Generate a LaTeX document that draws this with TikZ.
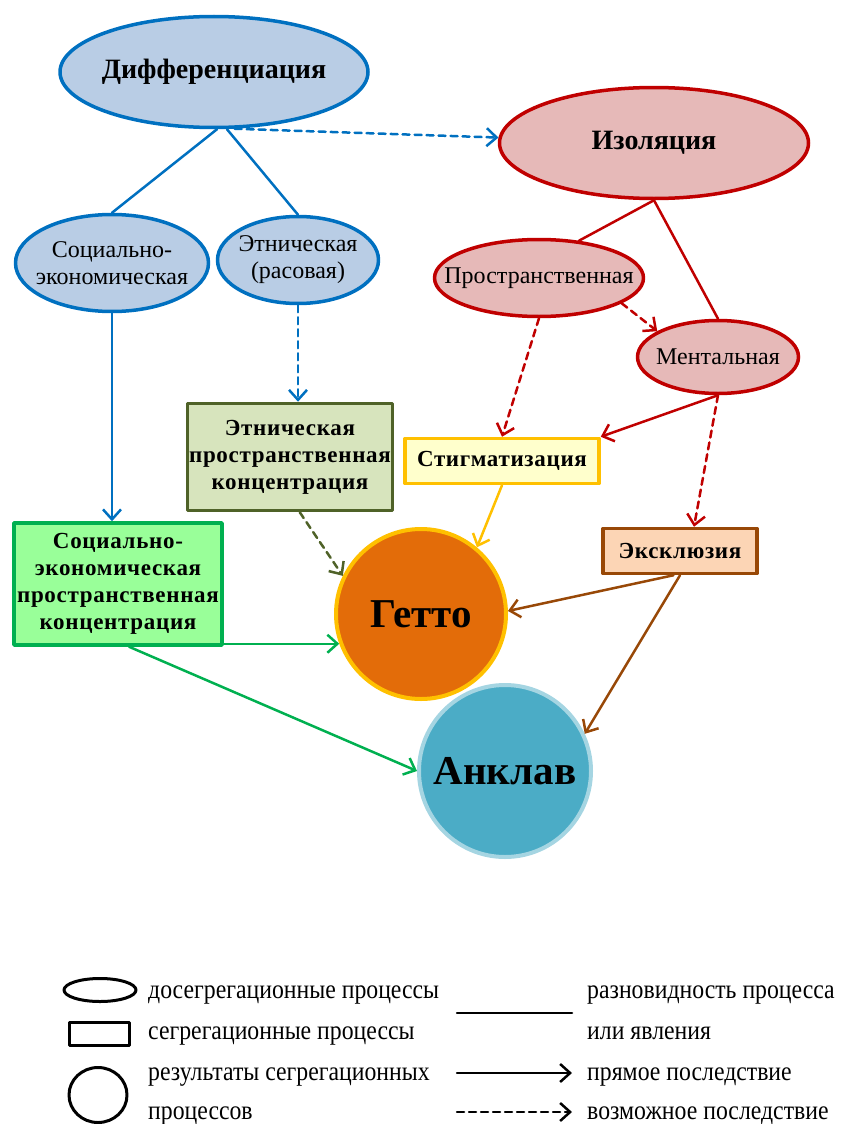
\documentclass[tikz,border=0pt]{standalone}
\usepackage{fontspec}
\setmainfont{Liberation Serif}
\newfontfamily\legfont[FakeStretch=0.88]{Liberation Serif}
\newfontfamily\boxfont[LetterSpace=3]{Liberation Serif}
\usetikzlibrary{shapes.geometric,arrows.meta}
\definecolor{difblue}{HTML}{0070C0}
\definecolor{diffill}{HTML}{B9CDE5}
\definecolor{isored}{HTML}{C00000}
\definecolor{isofill}{HTML}{E6B9B8}
\definecolor{olive}{HTML}{4F6228}
\definecolor{olivefill}{HTML}{D7E4BD}
\definecolor{sgreen}{HTML}{00B050}
\definecolor{sgreenfill}{HTML}{99FF99}
\definecolor{gold}{HTML}{FFC000}
\definecolor{goldfill}{HTML}{FFFFCC}
\definecolor{brown}{HTML}{984807}
\definecolor{brownfill}{HTML}{FCD5B5}
\definecolor{ghettofill}{HTML}{E36C09}
\definecolor{anklavfill}{HTML}{4BACC6}
\definecolor{anklavline}{HTML}{A5D5E2}

\begin{document}
\begin{tikzpicture}[line cap=round,line join=round,>={Straight Barb[length=10pt,width=18pt]},x=1pt,y=-1pt,
  mainell/.style={ellipse,line width=3.5pt,inner sep=-30pt,font=\bfseries\fontsize{28}{30}\selectfont},
  subell/.style={ellipse,line width=3.5pt,inner sep=-30pt,align=center,font=\fontsize{24}{27}\selectfont},
  segbox/.style={rectangle,line width=3.5pt,inner sep=0pt,align=center,font=\boxfont\bfseries\fontsize{23}{27}\selectfont},
  result/.style={circle,line width=4pt,inner sep=0pt,font=\bfseries\fontsize{41}{44}\selectfont},
  kind/.style={line width=2.5pt},
  direct/.style={->,line width=2.5pt},
  possible/.style={->,line width=2.5pt,dash pattern=on 7pt off 5pt},
  legshape/.style={draw=black,line width=3pt,inner sep=0pt},
  legtext/.style={anchor=base west,inner sep=0pt,font=\legfont\fontsize{27}{29}\selectfont}]
\useasboundingbox (0,0) rectangle (842,1124);

\node[mainell,draw=difblue,fill=diffill,minimum width=308pt,minimum height=111pt] (diff) at (214,72) {Дифференциация};
\node[mainell,draw=isored,fill=isofill,minimum width=309pt,minimum height=111pt] (iso) at (654,143) {Изоляция};
\node[subell,draw=difblue,fill=diffill,minimum width=193pt,minimum height=97pt] (soc) at (112,263) {Социально-\\экономическая};
\node[subell,draw=difblue,fill=diffill,minimum width=161pt,minimum height=87pt] (eth) at (298,260) {Этническая\\(расовая)};
\node[subell,draw=isored,fill=isofill,minimum width=209pt,minimum height=77pt] (prost) at (539,278) {Пространственная};
\node[subell,draw=isored,fill=isofill,minimum width=161pt,minimum height=73pt] (ment) at (718,357) {Ментальная};
\node[segbox,draw=olive,fill=olivefill,minimum width=205pt,minimum height=107pt] (ethbox) at (290,457) {Этническая\\пространственная\\концентрация};
\node[segbox,draw=sgreen,fill=sgreenfill,minimum width=208pt,minimum height=122pt] (socbox) at (118,584) {Социально-\\экономическая\\пространственная\\концентрация};
\node[segbox,draw=gold,fill=goldfill,minimum width=194pt,minimum height=45pt] (stig) at (502,461) {Стигматизация};
\node[segbox,draw=brown,fill=brownfill,minimum width=154pt,minimum height=45pt] (excl) at (680,551) {Эксклюзия};
\node[result,draw=gold,fill=ghettofill,minimum size=170pt] (ghetto) at (421,614) {Гетто};
\node[result,draw=anklavline,fill=anklavfill,minimum size=172pt] (anklav) at (505,771) {Анклав};

\draw[kind,difblue] ([xshift=3pt]diff.south) -- (soc.north);
\draw[kind,difblue] ([xshift=13pt]diff.south) -- (eth.north);
\draw[possible,difblue] (diff.-70) -- (iso.178);
\draw[direct,difblue] (soc.south) -- (soc.south |- socbox.north);
\draw[possible,difblue] (eth.south) -- (eth.south |- ethbox.north);
\draw[kind,isored] (iso.south) -- (prost.43);
\draw[kind,isored] (iso.south) -- (ment.north);
\draw[possible,isored] (prost.-17) -- (ment.157);
\draw[possible,isored] (prost.south) -- (stig.north);
\draw[direct,isored] (ment.south) -- (stig.north east);
\draw[possible,isored] (ment.south) -- (excl.60);
\draw[possible,olive] (ethbox.-80) -- (ghetto.154);
\draw[direct,gold] (stig.south) -- (ghetto.50);
\draw[direct,brown] (excl.-105) -- (ghetto.2);
\draw[direct,brown] (excl.south) -- (anklav.25);
\draw[direct,sgreen] (socbox.east |- ghetto.200) -- (ghetto.200);
\draw[direct,sgreen] (socbox.-80) -- (anklav.west);

\node[legshape,ellipse,minimum width=72pt,minimum height=23pt] (legell) at (100,990) {};
\node[legshape,rectangle,minimum width=60pt,minimum height=23pt] (legbox) at (99,1034) {};
\node[legshape,ellipse,minimum width=58pt,minimum height=55pt] (legres) at (98,1095) {};
\node[legtext] (tpre) at (148,998) {досегрегационные процессы};
\node[legtext] (tseg) at (148,1039) {сегрегационные процессы};
\node[legtext] (tres) at (148,1080) {результаты сегрегационных};
\node[legtext] (tres2) at (148,1119) {процессов};
\node[legtext] (tkind) at (587,998) {разновидность процесса};
\node[legtext] (tkind2) at (587,1039) {или явления};
\node[legtext] (tdir) at (587,1080) {прямое последствие};
\node[legtext] (tpos) at (587,1119) {возможное последствие};
\coordinate (k1) at (457,1013);
\coordinate (k2) at (572,1013);
\coordinate (d1) at (457,1073);
\coordinate (d2) at (572,1073);
\coordinate (p1) at (457,1112);
\coordinate (p2) at (572,1112);
\draw[kind,black] (k1) -- (k2);
\draw[direct,black] (d1) -- (d2);
\draw[possible,black] (p1) -- (p2);
\end{tikzpicture}
\end{document}
